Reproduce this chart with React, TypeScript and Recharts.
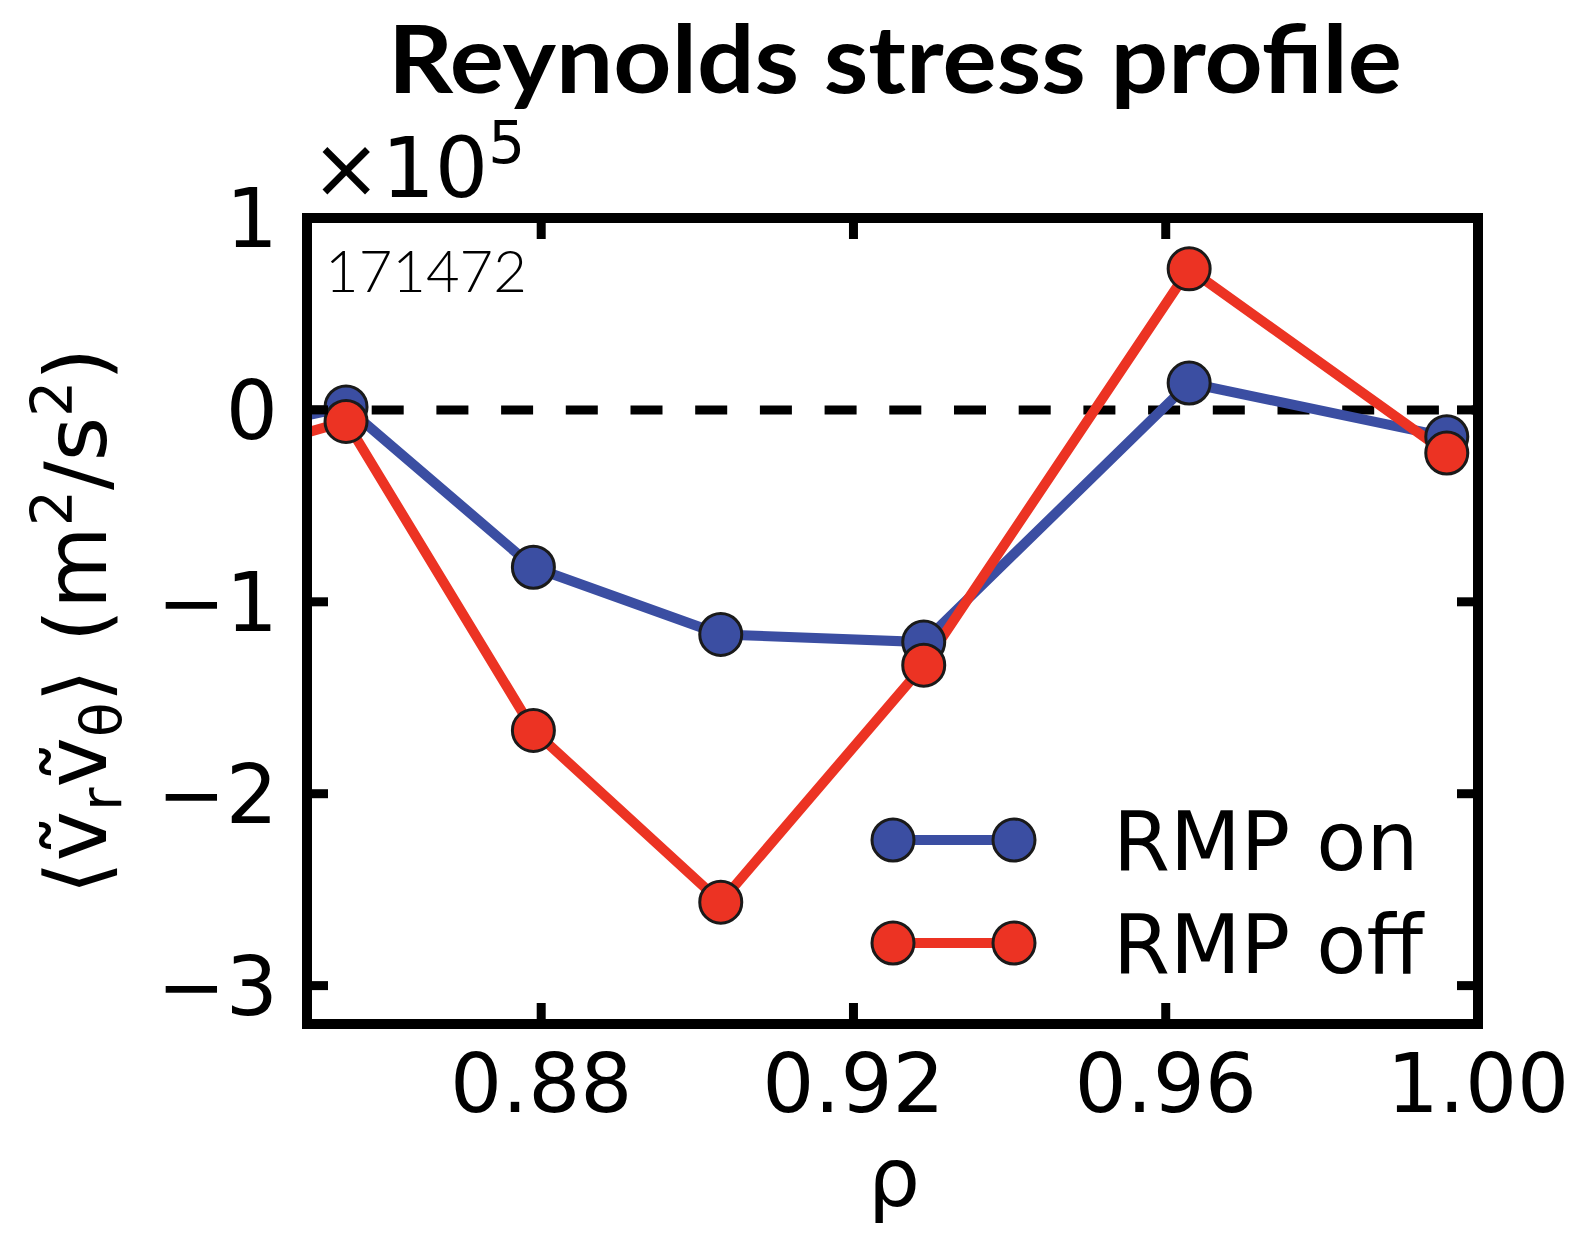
import React from 'react';
import { LineChart, Line, XAxis, YAxis, ReferenceLine, Customized } from 'recharts';

// normalized radius and Reynolds stress (units of 1e5 m^2/s^2)
const rho = [0.83, 0.855, 0.879, 0.903, 0.929, 0.963, 0.996];
const rmpOn = [-0.2, 0.015, -0.82, -1.17, -1.21, 0.14, -0.14];
const rmpOff = [-0.35, -0.06, -1.67, -2.565, -1.33, 0.735, -0.225];

const xTicks = [0.88, 0.92, 0.96, 1.0];
const xTicksTop = [0.88, 0.92, 0.96];
const yTicks = [1, 0, -1, -2, -3];
const yTicksRight = [0, -1, -2, -3];

const seriesNames = ['RMP on', 'RMP off'];

const BLUE = '#3b4ea2';
const RED = '#ec3323';
const EDGE = '#1a1a1a';
const FONT = '"DejaVu Sans", sans-serif';

const W = 1582;
const H = 1237;
// axes are 1px thick boxes, so the plot area is margin + 1
const MARGIN = { top: 217, right: 103, bottom: 212, left: 306 };
const TICK_LEN = 21;
const LINE_W = 10;
const DOT_R = 21;

const data = rho.map((r, i) => ({ rho: r, on: rmpOn[i], off: rmpOff[i] }));

const fmtY = (v: number) => (v < 0 ? '\u2212' + Math.abs(v) : String(v));

const BottomTick = (props: any) => {
  const { x, y, payload } = props;
  return (
    <g>
      <line x1={x} x2={x} y1={y} y2={y - TICK_LEN} stroke="#000" strokeWidth={9} />
      <text x={x} y={y + 88} textAnchor="middle" fontSize={82} fontFamily={FONT} fill="#000">
        {Number(payload.value).toFixed(2)}
      </text>
    </g>
  );
};

const TopTick = (props: any) => {
  const { x, y } = props;
  return <line x1={x} x2={x} y1={y} y2={y + TICK_LEN} stroke="#000" strokeWidth={9} />;
};

const LeftTick = (props: any) => {
  const { x, y, payload } = props;
  return (
    <g>
      <line x1={x} x2={x + TICK_LEN} y1={y} y2={y} stroke="#000" strokeWidth={9} />
      <text x={x - 29} y={y + 29} textAnchor="end" fontSize={82} fontFamily={FONT} fill="#000">
        {fmtY(payload.value)}
      </text>
    </g>
  );
};

const RightTick = (props: any) => {
  const { x, y } = props;
  return <line x1={x} x2={x - TICK_LEN} y1={y} y2={y} stroke="#000" strokeWidth={9} />;
};

const LegendRow = ({ y, color, label }: { y: number; color: string; label: string }) => (
  <g>
    <line x1={893} x2={1014} y1={y} y2={y} stroke={color} strokeWidth={LINE_W} />
    <circle cx={893} cy={y} r={DOT_R} fill={color} stroke={EDGE} strokeWidth={3} />
    <circle cx={1014} cy={y} r={DOT_R} fill={color} stroke={EDGE} strokeWidth={3} />
    <text x={1113} y={y + 30} fontSize={82} fontFamily={FONT} fill="#000">
      {label}
    </text>
  </g>
);

const Annotations = () => (
  <g>
    <text
      x={388}
      y={93}
      fontSize={93}
      fontWeight="bold"
      fontFamily="Lato, sans-serif"
      textLength={1014}
      lengthAdjust="spacingAndGlyphs"
      fill="#000"
    >
      Reynolds stress profile
    </text>
    <text x={311} y={197} fontSize={84} fontFamily={FONT} fill="#000">
      {'\u00d710'}
      <tspan dy={-34} fontSize={58}>5</tspan>
    </text>
    <text x={325} y={292} fontSize={58} fontWeight={300} fontFamily="Lato, sans-serif" fill="#000">
      171472
    </text>
    <text x={894} y={1206} textAnchor="middle" fontSize={82} fontFamily={FONT} fill="#000">
      ρ
    </text>
    <text transform="translate(106,621) rotate(-90)" textAnchor="middle" fontSize={85} fontFamily={FONT} fill="#000">
      {'\u27e8\u1e7d'}
      <tspan dy={15} fontSize={57}>r</tspan>
      <tspan dy={-15}>{'\u1e7d'}</tspan>
      <tspan dy={15} fontSize={57}>θ</tspan>
      <tspan dy={-15}>{'\u27e9 (m'}</tspan>
      <tspan dy={-34} fontSize={57}>2</tspan>
      <tspan dy={34}>/s</tspan>
      <tspan dy={-34} fontSize={57}>2</tspan>
      <tspan dy={34}>)</tspan>
    </text>
    <LegendRow y={840} color={BLUE} label={seriesNames[0]} />
    <LegendRow y={943} color={RED} label={seriesNames[1]} />
  </g>
);

const frameLine = { stroke: '#000', strokeWidth: 10, strokeLinecap: 'square' as const };

export default function App() {
  return (
    <div style={{ position: 'absolute', left: 0, top: 0, width: W, height: H, background: '#fff' }}>
      <LineChart width={W} height={H} data={data} margin={MARGIN}>
        <XAxis
          xAxisId="b"
          dataKey="rho"
          type="number"
          domain={[0.85, 1.0]}
          allowDataOverflow
          ticks={xTicks}
          height={1}
          tickSize={0}
          tickMargin={0}
          tickLine={false}
          interval={0}
          axisLine={frameLine}
          tick={<BottomTick />}
        />
        <XAxis
          xAxisId="t"
          dataKey="rho"
          type="number"
          orientation="top"
          domain={[0.85, 1.0]}
          allowDataOverflow
          ticks={xTicksTop}
          height={1}
          tickSize={0}
          tickMargin={0}
          tickLine={false}
          interval={0}
          axisLine={frameLine}
          tick={<TopTick />}
        />
        <YAxis
          yAxisId="l"
          type="number"
          domain={[-3.2, 1.0]}
          allowDataOverflow
          ticks={yTicks}
          width={1}
          tickSize={0}
          tickMargin={0}
          tickLine={false}
          interval={0}
          axisLine={frameLine}
          tick={<LeftTick />}
        />
        <YAxis
          yAxisId="r"
          type="number"
          orientation="right"
          domain={[-3.2, 1.0]}
          allowDataOverflow
          ticks={yTicksRight}
          width={1}
          tickSize={0}
          tickMargin={0}
          tickLine={false}
          interval={0}
          axisLine={frameLine}
          tick={<RightTick />}
        />
        <ReferenceLine xAxisId="b" yAxisId="l" y={0} stroke="#000" strokeWidth={9} strokeDasharray="32 32.7" />
        <Line
          xAxisId="b"
          yAxisId="l"
          dataKey="on"
          name={seriesNames[0]}
          type="linear"
          stroke={BLUE}
          strokeWidth={LINE_W}
          dot={{ r: DOT_R, fill: BLUE, stroke: EDGE, strokeWidth: 3 }}
          activeDot={false}
          isAnimationActive={false}
        />
        <Line
          xAxisId="b"
          yAxisId="l"
          dataKey="off"
          name={seriesNames[1]}
          type="linear"
          stroke={RED}
          strokeWidth={LINE_W}
          dot={{ r: DOT_R, fill: RED, stroke: EDGE, strokeWidth: 3 }}
          activeDot={false}
          isAnimationActive={false}
        />
        <Customized component={<Annotations />} />
      </LineChart>
    </div>
  );
}
